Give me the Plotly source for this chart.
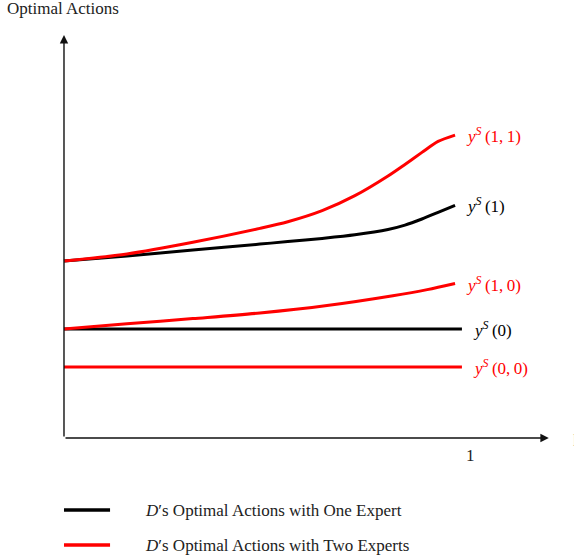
import plotly.graph_objects as go

# Horizontal variable; the rising curves stop just short of 1, the flat lines run to it
x_curve = [0.0, 0.156, 0.319, 0.485, 0.554, 0.639, 0.720, 0.802, 0.844, 0.886, 0.926, 0.968]
x_10 = [0.0, 0.156, 0.319, 0.485, 0.651, 0.814, 0.899, 0.968]
x_flat = [0.0, 0.985]

# Optimal actions with two experts
y_11 = [1.770, 1.840, 1.957, 2.096, 2.162, 2.273, 2.423, 2.620, 2.736, 2.856, 2.966, 3.029]
y_10 = [1.090, 1.142, 1.194, 1.250, 1.325, 1.423, 1.484, 1.545]
y_00 = [0.71, 0.71]

# Optimal actions with one expert
y_1 = [1.770, 1.820, 1.879, 1.939, 1.964, 1.996, 2.032, 2.085, 2.129, 2.190, 2.256, 2.327]
y_0 = [1.09, 1.09]

RED = "#ff0000"
BLACK = "#000000"
SERIF = "Liberation Serif"
FS = 17

fig = go.Figure()

def add_line(x, y, color):
    fig.add_trace(go.Scatter(
        x=x, y=y, mode="lines",
        line=dict(color=color, width=3, shape="spline", smoothing=0.8),
        hoverinfo="skip", showlegend=False,
    ))

add_line(x_flat, y_0, BLACK)
add_line(x_flat, y_00, RED)
add_line(x_curve, y_1, BLACK)
add_line(x_10, y_10, RED)
add_line(x_curve, y_11, RED)

# End-of-curve labels
end_labels = [
    (x_curve[-1], y_11[-1], "(1,\u20091)", RED),
    (x_curve[-1], y_1[-1], "(1)", BLACK),
    (x_10[-1], y_10[-1], "(1,\u20090)", RED),
    (x_flat[-1], y_0[-1], "(0)", BLACK),
    (x_flat[-1], y_00[-1], "(0,\u20090)", RED),
]
for xe, ye, arg, col in end_labels:
    fig.add_annotation(
        x=xe + 0.022, y=ye, xanchor="left", yanchor="middle", showarrow=False,
        text="<i>y</i><sup><i>S</i></sup>\u2009" + arg,
        font=dict(family=SERIF, size=FS, color=col),
    )

# Axes drawn as arrows from the origin
AX = "#111111"
fig.add_annotation(x=1.20, y=0, ax=0, ay=0, xref="x", yref="y", axref="x", ayref="y",
                   showarrow=True, arrowhead=2, arrowsize=1.2, arrowwidth=1.4,
                   arrowcolor=AX, text="")
fig.add_annotation(x=0, y=4.03, ax=0, ay=0, xref="x", yref="y", axref="x", ayref="y",
                   showarrow=True, arrowhead=2, arrowsize=1.2, arrowwidth=1.4,
                   arrowcolor=AX, text="")

fig.add_annotation(x=1.005, y=-0.175, text="1", showarrow=False,
                   font=dict(family=SERIF, size=FS, color="#222222"))
fig.add_annotation(x=1.255, y=0.02, text="p", showarrow=False, xanchor="left",
                   font=dict(family=SERIF, size=FS, color="#c8b890"))
fig.add_annotation(x=-0.145, y=4.30, text="Optimal Actions", showarrow=False,
                   xanchor="left", yanchor="middle",
                   font=dict(family=SERIF, size=FS, color="#222222"))

# Key for the two families of curves
legend_rows = [
    (-0.72, BLACK, "<i>D</i>\u2032s Optimal Actions with One Expert"),
    (-1.07, RED, "<i>D</i>\u2032s Optimal Actions with Two Experts"),
]
for yl, col, label in legend_rows:
    fig.add_shape(type="line", x0=0.0, x1=0.114, y0=yl, y1=yl, xref="x", yref="y",
                  line=dict(color=col, width=3.5))
    fig.add_annotation(x=0.195, y=yl, text=label, showarrow=False,
                       xanchor="left", yanchor="middle",
                       font=dict(family=SERIF, size=FS, color="#222222"))

fig.update_layout(
    width=574, height=558,
    margin=dict(l=0, r=0, t=0, b=0),
    paper_bgcolor="white", plot_bgcolor="white",
    xaxis=dict(range=[-0.1584, 1.2624], visible=False, fixedrange=True),
    yaxis=dict(range=[-1.20, 4.38], visible=False, fixedrange=True),
    showlegend=False,
)

fig.write_html("out.html")
